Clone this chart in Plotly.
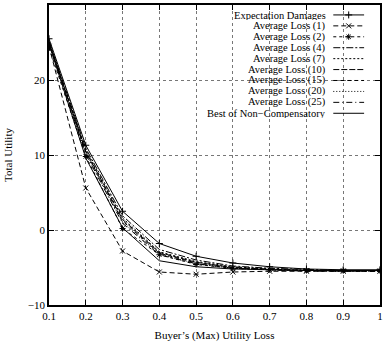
import plotly.graph_objects as go

x_vals = [0.1, 0.2, 0.3, 0.4, 0.5, 0.6, 0.7, 0.8, 0.9, 1.0]

expectation = [25.5, 11.3, 2.5, -1.8, -3.5, -4.4, -4.9, -5.2, -5.3, -5.3]
avg1 = [24.5, 5.6, -2.8, -5.6, -5.9, -5.6, -5.5, -5.5, -5.5, -5.5]
avg2 = [24.3, 9.8, 0.2, -3.3, -4.6, -5.1, -5.3, -5.4, -5.4, -5.4]
avg4 = [25.2, 10.9, 1.9, -2.6, -4.0, -4.8, -5.1, -5.3, -5.4, -5.4]
avg7 = [25.1, 10.7, 1.6, -2.9, -4.2, -4.9, -5.2, -5.4, -5.4, -5.4]
avg10 = [25.0, 10.5, 1.4, -3.0, -4.3, -5.0, -5.2, -5.4, -5.4, -5.4]
avg15 = [25.0, 10.4, 1.2, -3.1, -4.4, -5.0, -5.3, -5.4, -5.5, -5.5]
avg20 = [24.9, 10.2, 1.0, -3.2, -4.5, -5.1, -5.3, -5.4, -5.5, -5.5]
avg25 = [24.9, 10.1, 0.9, -3.3, -4.5, -5.1, -5.3, -5.5, -5.5, -5.5]
best_noncomp = [24.8, 9.6, 0.3, -4.1, -4.9, -5.2, -5.3, -5.4, -5.4, -5.4]

series_names = ["Expectation Damages", "Average Loss (1)", "Average Loss (2)",
                "Average Loss (4)", "Average Loss (7)", "Average Loss (10)",
                "Average Loss (15)", "Average Loss (20)", "Average Loss (25)",
                "Best of Non\u2212Compensatory"]
series_values = [expectation, avg1, avg2, avg4, avg7, avg10, avg15, avg20, avg25, best_noncomp]
dashes = ["solid", "5px,3px", "3px,3px", "7px,2px,2px,2px", "2px,2px",
          "6px,2px", "4px,3px", "1px,2px", "6px,3px,1px,3px", "solid"]
markers = ["cross-thin-open", "x-thin-open", "asterisk-open", None, None,
           None, None, None, None, None]

x_ticks = [0.1, 0.2, 0.3, 0.4, 0.5, 0.6, 0.7, 0.8, 0.9, 1.0]
x_tick_labels = ["0.1", "0.2", "0.3", "0.4", "0.5", "0.6", "0.7", "0.8", "0.9", "1"]
y_ticks = [-10, 0, 10, 20, 30]

FONT = "Liberation Serif"

fig = go.Figure()
for name, vals, dash, mk in zip(series_names, series_values, dashes, markers):
    fig.add_trace(go.Scatter(
        x=x_vals, y=vals, name=name,
        mode="lines+markers" if mk else "lines",
        line=dict(color="black", width=1, dash=dash),
        marker=dict(symbol=mk, size=5, color="black", line=dict(width=1, color="black")) if mk else None,
        showlegend=False,
    ))

# custom gnuplot-style legend (text right-aligned, sample on the right)
plot_l, plot_r, plot_t, plot_b = 49, 382, 5, 307
pw, ph = plot_r - plot_l, plot_b - plot_t
def px2paper(px, py):
    return (px - plot_l) / pw, (plot_b - py) / ph

shapes = []
# white block behind legend (covers grid lines)
bx0, by0 = px2paper(170, 118)
bx1, by1 = px2paper(381, 7)
shapes.append(dict(type="rect", xref="paper", yref="paper", x0=bx0, x1=bx1, y0=by0, y1=by1,
                   fillcolor="white", line=dict(width=0), layer="between"))

annotations = []
mk_x, mk_y, mk_s = [], [], []
for i, (name, dash, mk) in enumerate(zip(series_names, dashes, markers)):
    py = 15 + 11 * i
    tx, ty = px2paper(329, py)
    annotations.append(dict(text=name, xref="paper", yref="paper", x=tx, y=ty,
                            xanchor="right", yanchor="middle", showarrow=False,
                            height=10, borderpad=0,
                            font=dict(family=FONT, size=10.5, color="black")))
    sx0, sy = px2paper(335, py)
    sx1, _ = px2paper(366, py)
    shapes.append(dict(type="line", xref="paper", yref="paper", x0=sx0, x1=sx1, y0=sy, y1=sy,
                       line=dict(color="black", width=1, dash=dash)))
    if mk:
        mx, _ = px2paper(350.5, py)
        mk_x.append(mx); mk_y.append(sy); mk_s.append(mk)

fig.add_trace(go.Scatter(x=mk_x, y=mk_y, xaxis="x2", yaxis="y2", mode="markers",
                         marker=dict(symbol=mk_s, size=5, color="black", line=dict(width=1, color="black")),
                         showlegend=False, hoverinfo="skip"))

axis_common = dict(showline=True, linecolor="black", linewidth=1.5, mirror="allticks",
                   ticks="inside", ticklen=5, tickwidth=1, tickcolor="black",
                   showgrid=True, gridcolor="#777", gridwidth=1, griddash="dot",
                   zeroline=False, tickfont=dict(family=FONT, size=11, color="black"))

fig.update_layout(
    width=384, height=342,
    margin=dict(l=plot_l, r=384 - plot_r, t=plot_t, b=342 - plot_b),
    paper_bgcolor="white", plot_bgcolor="white",
    font=dict(family=FONT, size=11, color="black"),
    xaxis=dict(range=[0.1, 1.0], tickvals=x_ticks, ticktext=x_tick_labels,
               title=dict(text="Buyer\u2019s (Max) Utility Loss", font=dict(family=FONT, size=11), standoff=10),
               **axis_common),
    yaxis=dict(range=[-10, 30], tickvals=y_ticks,
               title=dict(text="Total Utility", font=dict(family=FONT, size=11), standoff=13),
               **axis_common),
    xaxis2=dict(overlaying="x", range=[0, 1], visible=False, domain=[0, 1]),
    yaxis2=dict(overlaying="y", range=[0, 1], visible=False),
    shapes=shapes,
    annotations=annotations,
)

fig.write_html("out.html")
